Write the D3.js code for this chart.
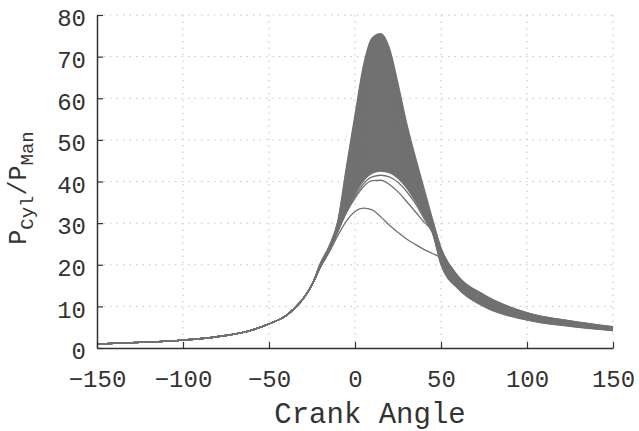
<!DOCTYPE html>
<html>
<head>
<meta charset="utf-8">
<script src="https://d3js.org/d3.v7.min.js"></script>
<style>
    body { margin: 0; background: #fff; }
    svg { display: block; }
    text { font-family: "Liberation Mono", "DejaVu Sans Mono", monospace; fill: #333; }
</style>
</head>
<body>
<div id="chart"></div>
<script>
// Compression stroke, shared by every cycle (crank angle in degrees, pressure ratio)
const compressionAngles = [-150, -140, -125, -100, -75, -60, -50, -40, -35, -30, -25];
const compressionRatio  = [1.0, 1.1, 1.35, 1.9, 3.0, 4.3, 5.8, 7.8, 9.6, 11.9, 15.2];

// Combustion / expansion part, one row per recorded cycle
const combustionAngles = [-20, -15, -10, -5, 0, 5, 10, 15, 20, 25, 30, 35, 40, 45, 50, 60, 75, 100, 125, 150];
const cycleRatios = [
    [19.5, 23.0, 27.0, 30.5, 32.8, 33.6, 33.2, 31.5, 29.5, 27.8, 26.2, 24.9, 23.7, 22.7, 21.6, 16.0, 11.0, 7.3, 5.6, 4.4],
    [19.6, 23.4, 28.0, 32.5, 36.0, 38.8, 40.2, 40.3, 39.3, 37.5, 35.2, 32.8, 30.3, 27.8, 20.0, 14.2, 9.9, 6.7, 5.2, 4.2],
    [19.6, 23.4, 28.1, 32.6, 36.5, 39.5, 41.1, 41.5, 41.1, 39.8, 37.6, 34.8, 31.2, 27.7, 20.3, 14.4, 10.1, 6.8, 5.3, 4.2],
    [19.6, 23.4, 28.1, 32.8, 37.0, 40.2, 42.0, 42.5, 42.1, 40.8, 38.5, 35.4, 31.7, 27.9, 20.5, 14.6, 10.2, 6.9, 5.3, 4.3],
    [19.6, 23.4, 28.2, 32.9, 37.5, 41.0, 43.0, 43.5, 43.1, 41.7, 39.2, 36.0, 32.1, 28.1, 20.8, 14.8, 10.4, 7.0, 5.4, 4.3],
    [19.7, 23.4, 28.2, 33.1, 38.0, 41.7, 44.0, 44.5, 44.1, 42.6, 40.0, 36.5, 32.5, 28.3, 21.0, 15.0, 10.5, 7.1, 5.5, 4.4],
    [19.7, 23.4, 28.3, 33.3, 38.6, 42.5, 45.0, 45.5, 45.1, 43.5, 40.6, 37.0, 32.8, 28.4, 21.3, 15.1, 10.7, 7.2, 5.5, 4.4],
    [19.7, 23.5, 28.4, 33.6, 39.3, 43.6, 46.3, 47.0, 46.6, 44.8, 41.5, 37.6, 33.3, 28.6, 21.5, 15.3, 10.8, 7.3, 5.6, 4.5],
    [19.7, 23.5, 28.5, 34.0, 40.2, 45.0, 48.2, 49.0, 48.6, 46.3, 42.6, 38.3, 33.8, 28.9, 21.8, 15.5, 11.0, 7.4, 5.7, 4.5],
    [19.8, 23.5, 28.6, 34.5, 41.2, 46.5, 50.0, 51.0, 50.5, 47.8, 43.6, 39.0, 34.2, 29.1, 22.0, 15.7, 11.2, 7.5, 5.8, 4.6],
    [19.8, 23.6, 28.7, 35.0, 42.2, 48.2, 52.0, 53.0, 52.4, 49.2, 44.6, 39.6, 34.6, 29.3, 22.3, 15.9, 11.4, 7.6, 5.8, 4.6],
    [19.8, 23.6, 28.8, 35.6, 43.3, 50.0, 54.0, 55.0, 54.2, 50.5, 45.5, 40.3, 35.0, 29.4, 22.5, 16.1, 11.5, 7.7, 5.9, 4.7],
    [19.9, 23.7, 28.9, 36.3, 44.5, 52.0, 56.5, 57.5, 56.3, 52.0, 46.5, 41.0, 35.3, 29.5, 22.8, 16.3, 11.7, 7.8, 6.0, 4.7],
    [19.9, 23.7, 29.0, 37.0, 46.0, 54.0, 59.0, 60.0, 58.5, 53.5, 47.5, 41.5, 35.5, 29.6, 23.0, 16.4, 11.9, 7.9, 6.1, 4.8],
    [20.0, 23.8, 29.2, 37.8, 47.5, 56.5, 61.5, 62.5, 61.0, 55.5, 48.5, 42.0, 35.8, 29.8, 23.2, 16.6, 12.1, 8.0, 6.2, 4.8],
    [20.0, 23.9, 29.4, 38.5, 49.0, 58.5, 64.0, 65.0, 63.5, 57.0, 49.5, 42.5, 36.0, 29.8, 23.4, 16.8, 12.3, 8.1, 6.2, 4.9],
    [20.1, 24.0, 29.6, 39.5, 50.5, 61.0, 66.5, 67.5, 65.5, 58.5, 50.5, 43.5, 36.5, 30.0, 23.6, 16.9, 12.4, 8.2, 6.3, 4.9],
    [20.2, 24.1, 29.8, 40.5, 52.0, 63.0, 69.0, 70.0, 67.5, 60.0, 51.5, 44.0, 37.0, 30.0, 23.7, 17.0, 12.5, 8.3, 6.4, 5.0],
    [20.3, 24.2, 30.0, 41.5, 53.5, 65.0, 71.5, 72.5, 69.5, 61.5, 52.5, 44.5, 37.5, 30.5, 23.8, 17.1, 12.6, 8.4, 6.4, 5.0],
    [20.4, 24.4, 30.2, 42.5, 55.0, 67.0, 73.5, 74.5, 71.0, 62.5, 53.0, 45.0, 37.5, 30.5, 23.9, 17.2, 12.7, 8.4, 6.5, 5.1],
    [20.5, 24.5, 30.5, 43.5, 56.0, 68.0, 74.5, 75.5, 72.0, 63.5, 54.0, 46.0, 38.5, 31.0, 24.0, 17.2, 12.8, 8.5, 6.5, 5.1]
];
// cycles from this row on overlap into one solid band
const denseFrom = 3;

const xTicks = [-150, -100, -50, 0, 50, 100, 150];
const yTicks = [0, 10, 20, 30, 40, 50, 60, 70, 80];

const W = 639, H = 431;
const margin = { top: 15, right: 26, bottom: 83, left: 97 };
const width = W - margin.left - margin.right;
const height = H - margin.top - margin.bottom;
const lineColor = "#717171";

const svg = d3.select("#chart").append("svg")
    .attr("width", W)
    .attr("height", H);

const g = svg.append("g")
    .attr("transform", `translate(${margin.left},${margin.top})`);

const x = d3.scaleLinear().domain([-150, 150]).range([0, width]);
const y = d3.scaleLinear().domain([0, 80]).range([height, 0]);

// Dotted grid
g.append("g").selectAll("line")
    .data(xTicks.filter(d => d !== -150))
    .join("line")
    .attr("x1", d => x(d)).attr("x2", d => x(d))
    .attr("y1", 0).attr("y2", height)
    .attr("stroke", "#c4c4c4").attr("stroke-dasharray", "1.5,5");

g.append("g").selectAll("line")
    .data(yTicks.filter(d => d !== 0))
    .join("line")
    .attr("x1", 0).attr("x2", width)
    .attr("y1", d => y(d)).attr("y2", d => y(d))
    .attr("stroke", "#c4c4c4").attr("stroke-dasharray", "1.5,5");

// Build every cycle from the shared compression part plus its own row
const angles = compressionAngles.concat(combustionAngles);
const cycles = cycleRatios.map(row => angles.map((a, i) =>
    [a, i < compressionAngles.length ? compressionRatio[i] : row[i - compressionAngles.length]]));

const line = d3.line()
    .x(d => x(d[0]))
    .y(d => y(d[1]))
    .curve(d3.curveMonotoneX);

// Overlap of the dense cycles
const dense = cycles.slice(denseFrom);
const band = angles.map((a, i) => ({
    a: a,
    lo: d3.min(dense, c => c[i][1]),
    hi: d3.max(dense, c => c[i][1])
}));
g.append("path")
    .datum(band)
    .attr("fill", lineColor)
    .attr("d", d3.area()
        .x(d => x(d.a))
        .y0(d => y(d.lo))
        .y1(d => y(d.hi))
        .curve(d3.curveMonotoneX));

g.append("g").selectAll("path")
    .data(cycles)
    .join("path")
    .attr("fill", "none")
    .attr("stroke", lineColor)
    .attr("stroke-width", 1.3)
    .attr("d", line);

// Axes with inward ticks
const xAxis = g.append("g")
    .attr("transform", `translate(0,${height})`)
    .call(d3.axisBottom(x).tickValues(xTicks).tickSizeInner(-6).tickSizeOuter(0).tickPadding(22));

const yAxis = g.append("g")
    .call(d3.axisLeft(y).tickValues(yTicks).tickSizeInner(-6).tickSizeOuter(0).tickPadding(11));

[xAxis, yAxis].forEach(ax => {
    ax.select(".domain").attr("stroke", "#333").attr("stroke-width", 1.5);
    ax.selectAll(".tick line").attr("stroke", "#333").attr("stroke-width", 1.2);
    ax.selectAll("text")
        .style("font-family", '"Liberation Mono", monospace')
        .style("font-size", "24px")
        .attr("fill", "#3a3a3a");
});
yAxis.selectAll("text").attr("dy", "0.45em");

// Axis titles
svg.append("text")
    .attr("x", 370)
    .attr("y", 423)
    .attr("text-anchor", "middle")
    .style("font-size", "29px")
    .text("Crank Angle");

const yTitle = svg.append("text")
    .attr("transform", "translate(26,188) rotate(-90)")
    .attr("text-anchor", "middle")
    .style("font-size", "25px");
yTitle.append("tspan").text("P");
yTitle.append("tspan").attr("dy", 7).style("font-size", "19px").text("Cyl");
yTitle.append("tspan").attr("dy", -7).text("/P");
yTitle.append("tspan").attr("dy", 7).style("font-size", "19px").text("Man");
</script>
</body>
</html>
